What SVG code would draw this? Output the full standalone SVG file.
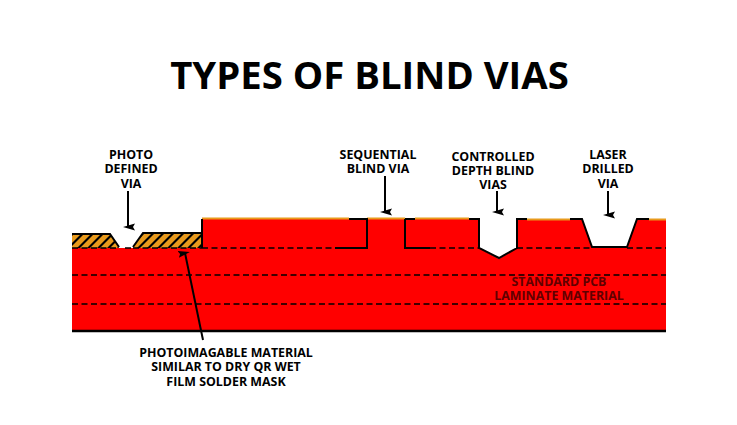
<svg xmlns="http://www.w3.org/2000/svg" width="737" height="425" viewBox="0 0 737 425">
<defs>
<pattern id="hatch" width="10" height="14" patternUnits="userSpaceOnUse" patternTransform="translate(72 233) skewX(-45)">
<rect width="10" height="14" fill="#e89a1c"/>
<rect width="3" height="14" fill="#000"/>
</pattern>
<marker id="ah" markerWidth="8" markerHeight="12" refX="3.500" refY="7" orient="auto" markerUnits="userSpaceOnUse" viewBox="0 0 7 12">
<path d="M0 0L3.500 2L7 0L3.500 12Z" fill="#000"/>
</marker>
<style>
text{font-family:"Open Sans","Noto Sans",sans-serif;font-weight:700;fill:#000;text-anchor:middle}
.l{font-size:12.400px}
.o{fill:none;stroke:#000;stroke-width:2}
.b{fill:none;stroke:#000;stroke-width:2.500}
.d{fill:none;stroke:#000;stroke-width:1.600;stroke-dasharray:6 3.500}
.y{fill:none;stroke:#e89a1c;stroke-width:2}
.a{fill:none;stroke:#000;stroke-width:2;marker-end:url(#ah)}
</style>
</defs>
<rect width="737" height="425" fill="#fff"/>
<text id="title" x="369.500" y="89" style="font-size:38.300px">TYPES OF BLIND VIAS</text>
<g id="laminate">
<path d="M72 248H119H133H202V219H367H405H479V248L499 259L517 248V219H582L592 247H627L637 219H666V331H72Z" fill="#f00"/>
<path class="d" d="M72 275H666M72 304H666"/>
<path d="M72 331H666" class="b"/>
</g>
<g id="photo-mask">
<path d="M72 234H110L119 248H72Z" fill="url(#hatch)"/>
<path d="M133 248L143 233H202V248Z" fill="url(#hatch)"/>
<path class="o" d="M72 234H110L119 247M133 247L143 233H202"/>
</g>
<g id="copper">
<path class="y" d="M202 218.500H349M367 218.500H405M415 218.500H469M527 219.500H570M649 219.500H666"/>
</g>
<g id="outlines">
<path class="o" d="M202 219V248M349 219H367V248H335M405 219H415M405 219V248H430M469 219H479V248L499 258L517 248V219H527M570 219H582L592 247H627L637 219H649"/>
<path class="d" d="M72 248H119M125 248H133M133 248H202M202 248H340M430 248H479M517 248H592M627 248H666"/>
</g>
<g id="connectors">
<path class="a" d="M128 191V227"/>
<path class="a" d="M385 176V212"/>
<path class="a" d="M497 191V212"/>
<path class="a" d="M608 191V215"/>
<path class="a" d="M203 340L185 253"/>
</g>
<g id="label-photo"><text class="l" x="131"><tspan x="131" y="159">PHOTO</tspan><tspan x="131" y="173">DEFINED</tspan><tspan x="131" y="188">VIA</tspan></text></g>
<g id="label-seq"><text class="l" x="378"><tspan x="378" y="159">SEQUENTIAL</tspan><tspan x="378" y="173">BLIND VIA</tspan></text></g>
<g id="label-ctrl"><text class="l" x="493"><tspan x="493" y="161">CONTROLLED</tspan><tspan x="493" y="175">DEPTH BLIND</tspan><tspan x="493" y="189">VIAS</tspan></text></g>
<g id="label-laser"><text class="l" x="608"><tspan x="608" y="159">LASER</tspan><tspan x="608" y="173">DRILLED</tspan><tspan x="608" y="188">VIA</tspan></text></g>
<g id="label-std"><text class="l" style="fill:#600000"><tspan x="559" y="286">STANDARD PCB</tspan><tspan x="559" y="300">LAMINATE MATERIAL</tspan></text></g>
<g id="label-mask"><text class="l"><tspan x="226" y="357">PHOTOIMAGABLE MATERIAL</tspan><tspan x="226" y="371">SIMILAR TO DRY QR WET</tspan><tspan x="226" y="386">FILM SOLDER MASK</tspan></text></g>
</svg>
